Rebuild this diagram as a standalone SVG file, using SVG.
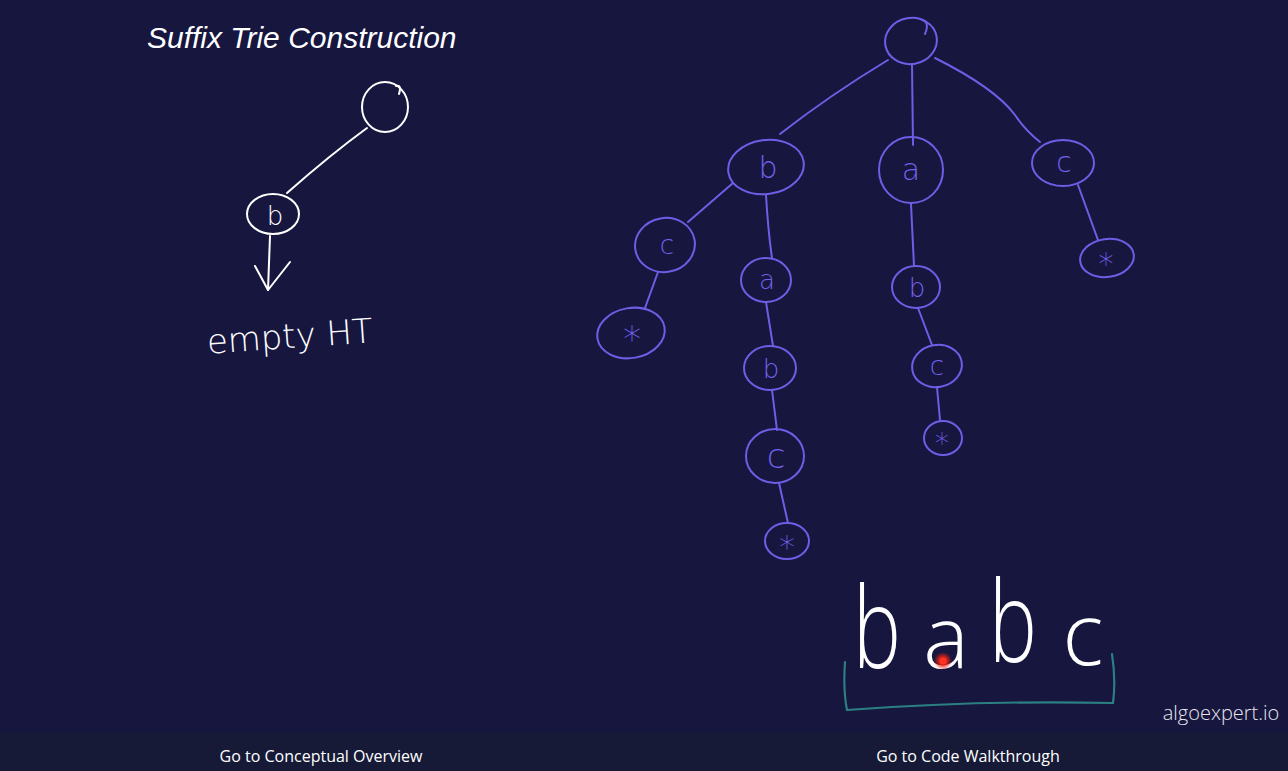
<svg xmlns="http://www.w3.org/2000/svg" width="1288" height="771" viewBox="0 0 1288 771">
<defs>
<style>
.bg{fill:#16163f}
.bar{fill:#161a37}
.wn{fill:none;stroke:#ffffff;stroke-width:2;stroke-linecap:round;stroke-linejoin:round}
.pn{fill:none;stroke:#6e5ee6;stroke-width:2;stroke-linecap:round;stroke-linejoin:round}
.pl{fill:#7262ec;font-family:"DejaVu Sans","Liberation Sans",sans-serif;font-weight:300;text-anchor:middle}
.wl{fill:#ffffff;font-family:"DejaVu Sans","Liberation Sans",sans-serif;font-weight:300;text-anchor:middle}
.big{fill:#ffffff;font-family:"Open Sans","DejaVu Sans",sans-serif;font-weight:300;text-anchor:middle}
.title{fill:#ffffff;font-family:"Liberation Sans",Arial,sans-serif;font-style:italic;font-size:30px}
.foot{fill:#ffffff;font-family:"Open Sans","Liberation Sans",sans-serif;font-size:16px;text-anchor:middle}
</style>
<radialGradient id="glow">
<stop offset="0" stop-color="#ff3322" stop-opacity="1"/>
<stop offset="0.5" stop-color="#ee2211" stop-opacity="0.8"/>
<stop offset="1" stop-color="#ee2211" stop-opacity="0"/>
</radialGradient>
</defs>
<rect class="bg" x="0" y="0" width="1288" height="771"/>
<rect class="bar" x="0" y="732" width="1288" height="39"/>

<text class="title" x="147" y="48">Suffix Trie Construction</text>

<!-- left mini trie -->
<g id="connectors-left">
<path class="wn" d="M367,128 Q330,155 287,193"/>
<path class="wn" d="M270,236 L268,290"/>
<path class="wn" d="M255,266 L268,290 L290,262"/>
</g>
<g id="left-root"><ellipse class="wn" cx="385" cy="107" rx="23" ry="25"/><path class="wn" d="M396,86 Q402,84 399,94"/></g>
<g id="left-b"><ellipse class="wn" cx="273" cy="214" rx="26" ry="20"/><text class="wl" x="275" y="225" font-size="26">b</text></g>
<g id="empty-ht"><text class="wl" x="290" y="348" font-size="34" transform="rotate(-4 290 340)">empty HT</text></g>

<!-- right trie connectors -->
<g id="connectors">
<path class="pn" d="M888,60 Q830,95 780,134"/>
<path class="pn" d="M912,64 L913,145"/>
<path class="pn" d="M935,58 Q995,88 1015,115 Q1025,130 1040,142"/>
<path class="pn" d="M733,183 L688,222"/>
<path class="pn" d="M766,195 Q768,230 772,258"/>
<path class="pn" d="M911,204 L914,266"/>
<path class="pn" d="M1078,185 L1098,240"/>
<path class="pn" d="M658,272 L645,308"/>
<path class="pn" d="M766,302 L773,346"/>
<path class="pn" d="M772,390 L777,430"/>
<path class="pn" d="M779,483 L788,523"/>
<path class="pn" d="M918,308 L932,345"/>
<path class="pn" d="M937,387 L940,420"/>
</g>

<g id="root"><ellipse class="pn" cx="911" cy="41" rx="26" ry="23" transform="rotate(-10 911 41)"/><path class="pn" d="M922,20 Q930,22 925,34"/></g>
<g id="n-b"><ellipse class="pn" cx="766" cy="167" rx="38" ry="27" transform="rotate(-8 766 167)"/><text class="pl" x="768" y="178" font-size="30">b</text></g>
<g id="n-a"><ellipse class="pn" cx="911" cy="170" rx="32" ry="33"/><text class="pl" x="911" y="180" font-size="30">a</text></g>
<g id="n-c"><ellipse class="pn" cx="1063" cy="163" rx="31" ry="23"/><text class="pl" x="1064" y="172" font-size="28">c</text></g>
<g id="n-bc"><ellipse class="pn" cx="665" cy="245" rx="30" ry="27" transform="rotate(-10 665 245)"/><text class="pl" x="667" y="254" font-size="26">c</text></g>
<g id="n-ba"><ellipse class="pn" cx="766" cy="280" rx="25" ry="22"/><text class="pl" x="767" y="289" font-size="26">a</text></g>
<g id="n-bcs"><ellipse class="pn" cx="631" cy="333" rx="34" ry="25" transform="rotate(-10 631 333)"/><text class="pl" x="632" y="351" font-size="36">*</text></g>
<g id="n-ab"><ellipse class="pn" cx="916" cy="287" rx="24" ry="21"/><text class="pl" x="917" y="297" font-size="26">b</text></g>
<g id="n-cs"><ellipse class="pn" cx="1107" cy="258" rx="27" ry="19" transform="rotate(-8 1107 258)"/><text class="pl" x="1106" y="274" font-size="30">*</text></g>
<g id="n-bab"><ellipse class="pn" cx="770" cy="368" rx="26" ry="22"/><text class="pl" x="771" y="378" font-size="26">b</text></g>
<g id="n-abc"><ellipse class="pn" cx="937" cy="366" rx="25" ry="21" transform="rotate(-10 937 366)"/><text class="pl" x="937" y="375" font-size="26">c</text></g>
<g id="n-abcs"><ellipse class="pn" cx="943" cy="438" rx="19" ry="17"/><text class="pl" x="942" y="453" font-size="28">*</text></g>
<g id="n-babc"><ellipse class="pn" cx="775" cy="456" rx="29" ry="27"/><text class="pl" x="776" y="468" font-size="34">c</text></g>
<g id="n-babcs"><ellipse class="pn" cx="787" cy="541" rx="22" ry="18"/><text class="pl" x="787" y="558" font-size="32">*</text></g>

<!-- string -->
<g id="string">
<text class="big" font-size="112" transform="translate(877 668) scale(0.72 1)">b</text>
<text class="big" x="946" y="668" font-size="86">a</text>
<text class="big" font-size="112" transform="translate(1013 662) scale(0.72 1)">b</text>
<text class="big" x="1083" y="665" font-size="86">c</text>
<path d="M845,662 Q843,690 847,710 Q980,700 1113,703 Q1116,680 1112,654" fill="none" stroke="#2b7f82" stroke-width="2.2" stroke-linecap="round" stroke-linejoin="round"/>
<circle cx="943" cy="661" r="9" fill="url(#glow)"/>
<circle cx="943" cy="661" r="3.5" fill="#ff3322"/>
</g>

<text x="1221" y="720" fill="#e6e6ee" font-family="Open Sans, Liberation Sans, sans-serif" font-weight="300" font-size="20" text-anchor="middle">algoexpert.io</text>

<text class="foot" x="321" y="762">Go to Conceptual Overview</text>
<text class="foot" x="968" y="762">Go to Code Walkthrough</text>
</svg>
